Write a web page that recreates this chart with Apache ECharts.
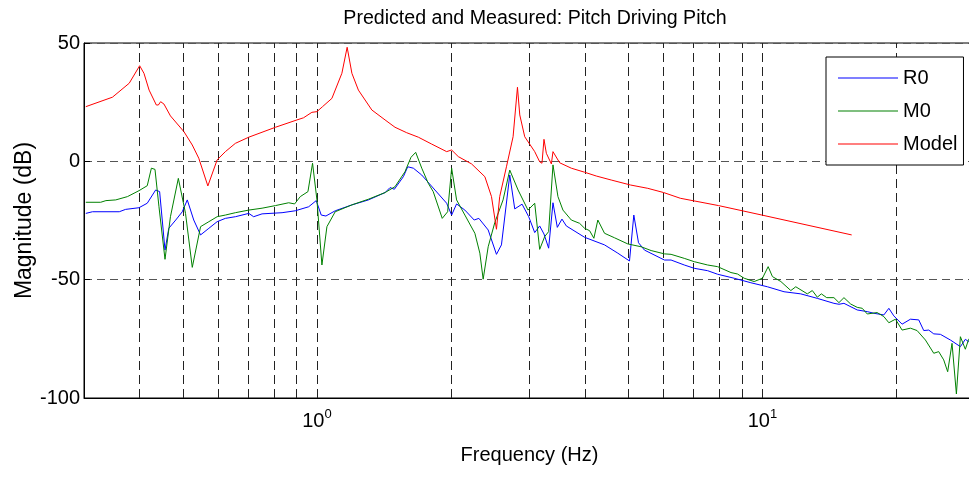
<!DOCTYPE html>
<html>
<head>
<meta charset="utf-8">
<script src="https://cdn.jsdelivr.net/npm/echarts@6/dist/echarts.min.js"></script>
<style>
html,body{margin:0;padding:0;background:#fff;}
#chart{width:969px;height:478px;}
</style>
</head>
<body>
<div id="chart"></div>
<script>
// ---- Data (frequency in Hz, magnitude in dB) ----
const freqR0 = [0.3028,0.3134,0.360,0.372,0.3986,0.416,0.4345,0.4435,0.456,0.465,0.482,0.4986,0.5116,0.529,0.548,0.572,0.597,0.623,0.656,0.703,0.721,0.753,0.835,0.894,0.958,0.9964,1.0224,1.0475,1.099,1.198,1.305,1.422,1.459,1.492,1.563,1.599,1.646,1.719,1.840,1.955,2.006,2.058,2.148,2.254,2.309,2.423,2.529,2.595,2.709,2.780,2.887,2.988,3.082,3.162,3.233,3.312,3.387,3.464,3.548,3.629,3.989,4.421,4.735,5.03,5.144,5.27,5.435,6.025,6.236,6.677,7.03,7.532,7.93,8.64,9.42,10.26,11.18,12.19,13.28,14.47,14.85,15.24,16.32,17.19,17.79,18.73,19.22,19.72,20.58,21.49,22.43,23.02,23.62,24.24,25.09,26.42,27.82,28.54,29.03,29.8];
const magR0  = [-22.0,-21.3,-21.3,-20.3,-19.6,-17.7,-12.1,-12.8,-37.5,-28.3,-24.8,-21.3,-16.3,-24.8,-31.1,-28.3,-25.5,-24.1,-23.4,-22.0,-23.4,-22.2,-21.7,-20.9,-19.2,-16.6,-22.7,-23.1,-20.9,-18.4,-16.3,-13.2,-11.1,-11.8,-6.5,-2.3,-2.9,-5.8,-12.1,-17.7,-22.7,-18.0,-20.6,-24.8,-24.1,-29.0,-39.3,-35.3,-5.8,-20.1,-18.1,-23.4,-30.1,-27.3,-30.7,-36.7,-17.5,-27.9,-24.4,-27.3,-32.1,-35.3,-38.8,-42.1,-22.7,-34.4,-37.5,-41.7,-41.7,-43.8,-45.2,-46.2,-47.7,-49.4,-51.3,-53.0,-55.1,-56.0,-57.9,-60.0,-60.4,-60.0,-62.8,-63.5,-64.2,-64.9,-62.1,-65.3,-68.8,-66.7,-67.0,-71.5,-71.3,-72.9,-73.1,-75.5,-78.3,-75.2,-76.2,-75.0];

const freqM0 = [0.3028,0.327,0.336,0.3535,0.3756,0.3986,0.416,0.425,0.433,0.442,0.456,0.469,0.4885,0.507,0.525,0.548,0.572,0.597,0.623,0.656,0.703,0.753,0.807,0.864,0.891,0.9175,0.9546,0.9776,1.000,1.026,1.053,1.099,1.198,1.305,1.422,1.497,1.576,1.626,1.666,1.719,1.778,1.824,1.911,1.965,2.006,2.058,2.148,2.262,2.321,2.361,2.423,2.507,2.617,2.709,2.828,2.977,3.082,3.162,3.245,3.312,3.387,3.475,3.566,3.724,3.887,3.989,4.093,4.184,4.271,4.421,4.655,4.986,5.343,5.625,6.025,6.236,6.677,7.03,7.532,7.93,8.50,8.79,9.10,9.58,10.0,10.30,10.53,11.0,11.58,11.88,12.61,12.94,13.28,13.56,13.94,14.47,14.85,15.24,15.78,16.32,16.75,17.19,18.09,18.73,19.22,19.89,20.58,21.49,22.24,23.22,24.24,24.87,25.52,26.05,26.64,27.25,27.82,28.54,29.03,29.8];
const magM0  = [-17.3,-17.3,-16.6,-16.3,-14.9,-12.4,-10.3,-2.9,-3.4,-19.2,-41.4,-23.4,-7.2,-22.0,-44.8,-27.6,-25.5,-23.4,-22.7,-21.7,-20.6,-19.8,-18.7,-17.5,-18.0,-14.9,-12.8,-0.8,-16.3,-43.8,-27.6,-21.3,-18.4,-16.0,-13.2,-10.7,-4.4,1.7,3.8,-2.9,-9.3,-12.8,-24.1,-21.3,-2.9,-16.3,-22.7,-30.4,-38.8,-49.8,-36.1,-25.9,-16.3,-3.7,-12.1,-20.6,-17.7,-37.2,-31.8,-29.7,-1.5,-14.9,-20.6,-24.8,-26.2,-28.3,-29.3,-32.5,-24.8,-30.4,-32.3,-34.9,-36.1,-37.7,-39.1,-39.3,-41.0,-42.4,-43.8,-44.5,-47.0,-47.6,-49.4,-50.8,-49.4,-44.5,-48.7,-50.8,-54.6,-53.0,-56.0,-54.6,-57.4,-56.0,-57.6,-57.6,-59.7,-57.6,-60.3,-61.7,-62.1,-64.5,-63.9,-65.6,-68.2,-66.7,-71.3,-70.5,-71.5,-75.5,-81.1,-80.4,-83.9,-88.9,-76.9,-98.3,-74.1,-79.4,-75.2,-77.0];

const freqModel = [0.3028,0.3475,0.379,0.400,0.409,0.420,0.436,0.4406,0.4458,0.4535,0.469,0.503,0.525,0.543,0.569,0.597,0.623,0.656,0.703,0.807,0.902,0.933,0.974,1.000,1.0293,1.0804,1.1376,1.169,1.198,1.239,1.328,1.422,1.497,1.590,1.689,1.809,1.955,2.006,2.076,2.224,2.382,2.465,2.529,2.572,2.663,2.756,2.819,2.853,2.927,3.082,3.162,3.200,3.233,3.273,3.359,3.387,3.506,3.724,3.989,4.236,4.577,5.057,5.528,6.003,6.54,7.97,9.97,15.86];
const magModel  = [23.1,27.1,33.0,40.4,37.2,30.1,23.8,23.8,25.2,24.2,19.2,12.5,6.9,1.3,-10.4,0.6,4.1,7.6,10.2,14.4,17.5,18.4,20.7,21.0,23.1,26.6,37.2,48.2,37.2,30.1,21.7,17.5,14.4,12.1,10.2,7.3,4.1,4.8,2.0,-1.1,-6.5,-14.9,-28.7,-14.9,-2.3,10.4,31.3,19.6,10.4,4.1,-0.2,-0.8,9.3,3.4,-1.1,4.1,-0.6,-2.9,-4.6,-6.2,-7.9,-10.0,-11.4,-13.2,-15.6,-18.7,-22.7,-31.1];

const gridFreqs = [0.4,0.5,0.6,0.7,0.8,0.9,1,2,3,4,5,6,7,8,9,10,20];
const xLabelValues = [1,10];

const seriesNames = ['R0','M0','Model'];
const seriesColors = ['#0000ff','#008000','#ff0000'];
const titleText = 'Predicted and Measured: Pitch Driving Pitch';
const xName = 'Frequency (Hz)';
const yName = 'Magnitude (dB)';

function pairs(fx, my){ return fx.map((f,i)=>[f, my[i]]); }

const FONT = '"Liberation Sans", Arial, Helvetica, sans-serif';
const chart = echarts.init(document.getElementById('chart'), null, {renderer:'canvas'});

chart.setOption({
  animation: false,
  backgroundColor: '#fff',
  textStyle: {fontFamily: FONT},
  title: {
    text: titleText, left: 530, top: 4, textAlign: 'center',
    textStyle: {fontFamily: FONT, fontSize: 19.6, fontWeight: 'normal', color: '#000'}
  },
  grid: {left: 84, right: -6, top: 43, bottom: 80, outerBoundsMode: 'none', containLabel: false,
         show: true, borderColor: '#000', borderWidth: 1, backgroundColor: 'transparent'},
  legend: {
    data: seriesNames.map(n => ({name: n, icon: 'rect'})),
    orient: 'vertical', left: 826, top: 57,
    padding: [11, 6, 11, 12], itemGap: 13, itemWidth: 60, itemHeight: 1, itemTextGap: 9,
    backgroundColor: '#fff', borderColor: '#000', borderWidth: 1, borderRadius: 0,
    textStyle: {fontFamily: FONT, fontSize: 20, color: '#000', lineHeight: 20}
  },
  xAxis: {
    type: 'log', logBase: 10, min: 0.3, max: 30,
    name: xName, nameLocation: 'middle', nameGap: 47, nameMoveOverlap: false,
    nameTextStyle: {fontFamily: FONT, fontSize: 20, color: '#000'},
    axisLine: {show: true, onZero: false, lineStyle: {color: '#000', width: 1}},
    axisTick: {show: true, inside: true, length: 6, customValues: gridFreqs, lineStyle: {color: '#000'}},
    axisLabel: {
      show: true, customValues: xLabelValues, margin: 10, color: '#000',
      formatter: function(v){ return '{b|10}{s|' + Math.round(Math.log10(v)) + '}'; },
      rich: {
        b: {fontFamily: FONT, fontSize: 20, color: '#000'},
        s: {fontFamily: FONT, fontSize: 13, color: '#000', padding: [0,0,14,0]}
      }
    },
    splitLine: {show: false},
    minorTick: {show: false}, minorSplitLine: {show: false}
  },
  yAxis: {
    type: 'value', min: -100, max: 50, interval: 50,
    name: yName, nameLocation: 'middle', nameGap: 48, nameRotate: 90, nameMoveOverlap: false,
    nameTextStyle: {fontFamily: FONT, fontSize: 23, color: '#000'},
    axisLine: {show: true, onZero: false, lineStyle: {color: '#000', width: 1}},
    axisTick: {show: true, inside: true, length: 6, lineStyle: {color: '#000'}},
    axisLabel: {fontFamily: FONT, fontSize: 20, color: '#000', margin: 4},
    splitLine: {show: true, lineStyle: {color: '#555', width: 1, type: [8, 5]}}
  },
  series: [
    {
      name: '_grid', type: 'line', data: [], silent: true, z: 1,
      markLine: {
        silent: true, symbol: ['none','none'], z: 1, animation: false,
        label: {show: false},
        lineStyle: {color: '#222', width: 1, type: [9, 5]},
        emphasis: {disabled: true},
        data: gridFreqs.map(v => ({xAxis: v}))
      }
    },
    {name: seriesNames[0], type: 'line', data: pairs(freqR0, magR0), showSymbol: false, symbol: 'none', z: 3,
     lineStyle: {color: seriesColors[0], width: 1}, itemStyle: {color: seriesColors[0]}},
    {name: seriesNames[1], type: 'line', data: pairs(freqM0, magM0), showSymbol: false, symbol: 'none', z: 4,
     lineStyle: {color: seriesColors[1], width: 1}, itemStyle: {color: seriesColors[1]}},
    {name: seriesNames[2], type: 'line', data: pairs(freqModel, magModel), showSymbol: false, symbol: 'none', z: 5,
     lineStyle: {color: seriesColors[2], width: 1}, itemStyle: {color: seriesColors[2]}}
  ]
});
</script>
</body>
</html>
